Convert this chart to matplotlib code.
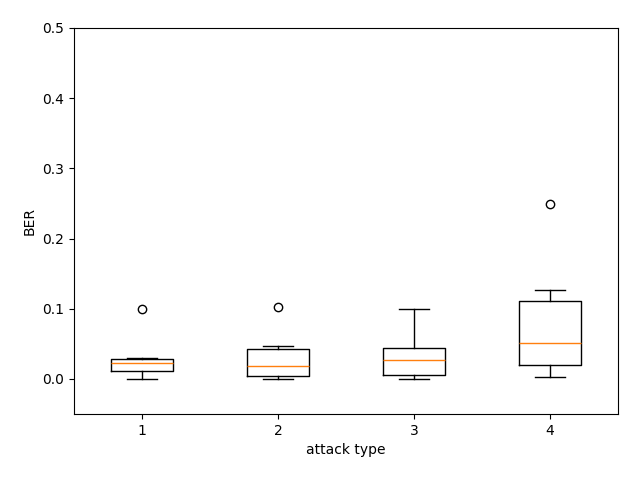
import matplotlib
matplotlib.use("Agg")
import matplotlib.pyplot as plt

attack_types = ['1', '2', '3', '4']
medians = [0.023, 0.018, 0.027, 0.051]
q1 = [0.011, 0.004, 0.005, 0.020]
q3 = [0.029, 0.042, 0.044, 0.111]
whisker_low = [0.0, 0.0, 0.0, 0.0025]
whisker_high = [0.030, 0.0465, 0.099, 0.127]
outliers = [[0.100], [0.102], [], [0.249]]

stats = []
for i in range(len(attack_types)):
    stats.append({
        'label': attack_types[i],
        'med': medians[i],
        'q1': q1[i],
        'q3': q3[i],
        'whislo': whisker_low[i],
        'whishi': whisker_high[i],
        'fliers': outliers[i],
    })

fig, ax = plt.subplots(figsize=(6.4, 4.8), dpi=100)
ax.bxp(stats)

ax.set_ylim(-0.05, 0.5)
ax.set_xlabel('attack type')
ax.set_ylabel('BER')

# margins as in the original figure
fig.subplots_adjust(left=0.1156, right=0.9656, top=0.9417, bottom=0.1375)
plt.savefig('out.png')
